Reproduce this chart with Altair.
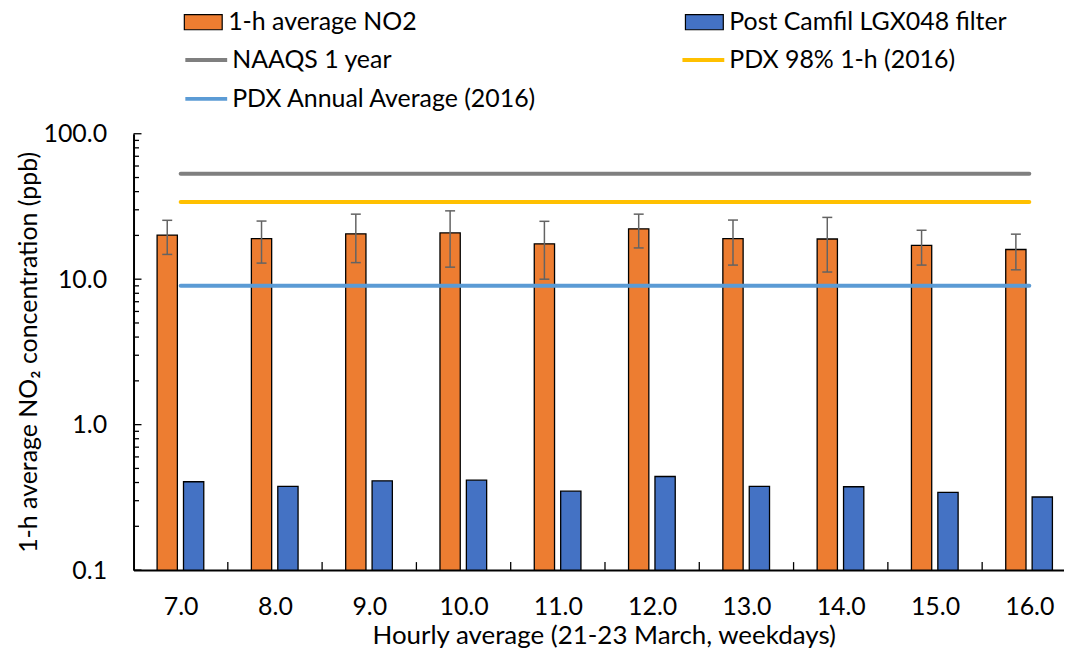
import altair as alt
import pandas as pd

# ---- data ----
hours = [7, 8, 9, 10, 11, 12, 13, 14, 15, 16]
no2_mean = [20.1, 19.0, 20.5, 20.8, 17.5, 22.2, 19.0, 18.9, 17.1, 16.0]
no2_sd = [5.3, 6.1, 7.5, 8.7, 7.5, 5.8, 6.5, 7.7, 4.6, 4.4]
post_filter = [0.405, 0.376, 0.411, 0.415, 0.349, 0.44, 0.376, 0.374, 0.342, 0.318]

bar_series = ["1-h average NO2", "Post Camfil LGX048 filter"]
bar_colors = ["#ED7D31", "#4472C4"]

ref_names = ["NAAQS 1 year", "PDX 98% 1-h (2016)", "PDX Annual Average (2016)"]
ref_values = [53.0, 34.0, 9.0]
ref_colors = ["#7F7F7F", "#FFC000", "#5B9BD5"]

y_major = [0.1, 1, 10, 100]
y_minor = [0.2, 0.3, 0.4, 0.5, 0.6, 0.7, 0.8, 0.9,
           2, 3, 4, 5, 6, 7, 8, 9,
           20, 30, 40, 50, 60, 70, 80, 90]
x_bounds = [7.5, 8.5, 9.5, 10.5, 11.5, 12.5, 13.5, 14.5, 15.5]

FONT = "Lato"
FS = 25
W, H = 934, 438
PX_PER_HOUR = 94.65
x_domain = [6.5, 6.5 + W / PX_PER_HOUR]

# ---- tables ----
rows = []
for h, m, p in zip(hours, no2_mean, post_filter):
    rows.append({"hour": h, "series": bar_series[0], "value": m, "x0": h - 0.25, "x1": h - 0.035})
    rows.append({"hour": h, "series": bar_series[1], "value": p, "x0": h + 0.03, "x1": h + 0.245})
bars_df = pd.DataFrame(rows)

err_df = pd.DataFrame({
    "xc": [h - 0.1425 for h in hours],
    "lo": [m - s for m, s in zip(no2_mean, no2_sd)],
    "hi": [m + s for m, s in zip(no2_mean, no2_sd)],
})

ref_df = pd.DataFrame({
    "name": ref_names,
    "value": ref_values,
    "xs": [hours[0]] * len(ref_names),
    "xe": [hours[-1]] * len(ref_names),
})

xscale = alt.Scale(domain=x_domain, nice=False, zero=False)
yscale = alt.Scale(type="log", domain=[0.1, 100], nice=False)

XT = "Hourly average (21-23 March, weekdays)"
YT = "1-h average NO\u2082 concentration (ppb)"

AX = alt.Axis(values=hours, format=".1f", ticks=False, grid=False,
              domainColor="black", domainWidth=2,
              labelFont=FONT, labelFontSize=FS, labelColor="black",
              labelPadding=25, title=XT,
              titleFont=FONT, titleFontSize=26, titleFontWeight="normal",
              titleColor="black", titlePadding=3, titleX=472, titleAlign="center")
AY = alt.Axis(values=y_major, format=".1f", ticks=False, grid=False,
              domainColor="black", domainWidth=2,
              labelFont=FONT, labelFontSize=FS, labelColor="black",
              labelPadding=27, title=YT,
              titleFont=FONT, titleFontSize=25, titleFontWeight="normal",
              titleColor="black", titlePadding=1)


def X(f):
    return alt.X(f, scale=xscale, axis=AX, title=XT)


def Y(f):
    return alt.Y(f, scale=yscale, axis=AY, title=YT)


bars = alt.Chart(bars_df).mark_bar(stroke="black", strokeWidth=1.3).encode(
    x=X("x0:Q"),
    x2="x1:Q",
    y=Y("value:Q"),
    y2=alt.datum(0.1),
    fill=alt.Fill("series:N",
                  scale=alt.Scale(domain=bar_series, range=bar_colors),
                  legend=alt.Legend(orient="none", legendX=50, legendY=-132,
                                    direction="horizontal", columns=2, columnPadding=266,
                                    rowPadding=3,
                                    title=None, symbolType="M-1,-0.4H1V0.4H-1Z",
                                    symbolSize=1444, symbolStrokeColor="black",
                                    symbolStrokeWidth=1.2, labelFont=FONT,
                                    labelFontSize=FS, labelColor="black",
                                    labelOffset=5, padding=0, labelLimit=600)),
)

err_v = alt.Chart(err_df).mark_rule(color="#636363", strokeWidth=1.5).encode(
    x=X("xc:Q"),
    y=Y("lo:Q"),
    y2="hi:Q",
)
cap_hi = alt.Chart(err_df).mark_rule(color="#636363", strokeWidth=1.5,
                                     xOffset=-5, x2Offset=5).encode(
    x=X("xc:Q"),
    x2="xc:Q",
    y=Y("hi:Q"),
)
cap_lo = alt.Chart(err_df).mark_rule(color="#636363", strokeWidth=1.5,
                                     xOffset=-5, x2Offset=5).encode(
    x=X("xc:Q"),
    x2="xc:Q",
    y=Y("lo:Q"),
)

refs = alt.Chart(ref_df).mark_rule(strokeWidth=4, strokeCap="round").encode(
    x=X("xs:Q"),
    x2="xe:Q",
    y=Y("value:Q"),
    stroke=alt.Stroke("name:N",
                      scale=alt.Scale(domain=ref_names, range=ref_colors),
                      legend=alt.Legend(orient="none", legendX=50, legendY=-97,
                                        direction="horizontal", columns=2,
                                        columnPadding=137, rowPadding=3, title=None,
                                        symbolType="stroke", symbolSize=1764,
                                        symbolStrokeWidth=4, labelFont=FONT,
                                        labelFontSize=FS, labelColor="black",
                                        labelOffset=3, padding=0, labelLimit=600)),
)

ymaj = alt.Chart(pd.DataFrame({"v": y_major})).mark_rule(color="black", strokeWidth=1.3).encode(
    y=Y("v:Q"), x=alt.value(0), x2=alt.value(8))
ymin = alt.Chart(pd.DataFrame({"v": y_minor})).mark_rule(color="black", strokeWidth=1.3).encode(
    y=Y("v:Q"), x=alt.value(0), x2=alt.value(5.5))
xt = alt.Chart(pd.DataFrame({"b": x_bounds})).mark_rule(color="black", strokeWidth=1.3).encode(
    x=X("b:Q"), y=alt.value(H - 8), y2=alt.value(H))

chart = alt.layer(bars, refs, err_v, cap_hi, cap_lo, ymaj, ymin, xt).properties(
    width=W, height=H,
    autosize=alt.AutoSizeParams(type="none"),
    padding={"left": 126, "top": 125, "right": 0, "bottom": 80},
).configure(font=FONT).configure_view(stroke=None)

chart.save("out.html", embed_options={"renderer": "svg", "actions": False})
